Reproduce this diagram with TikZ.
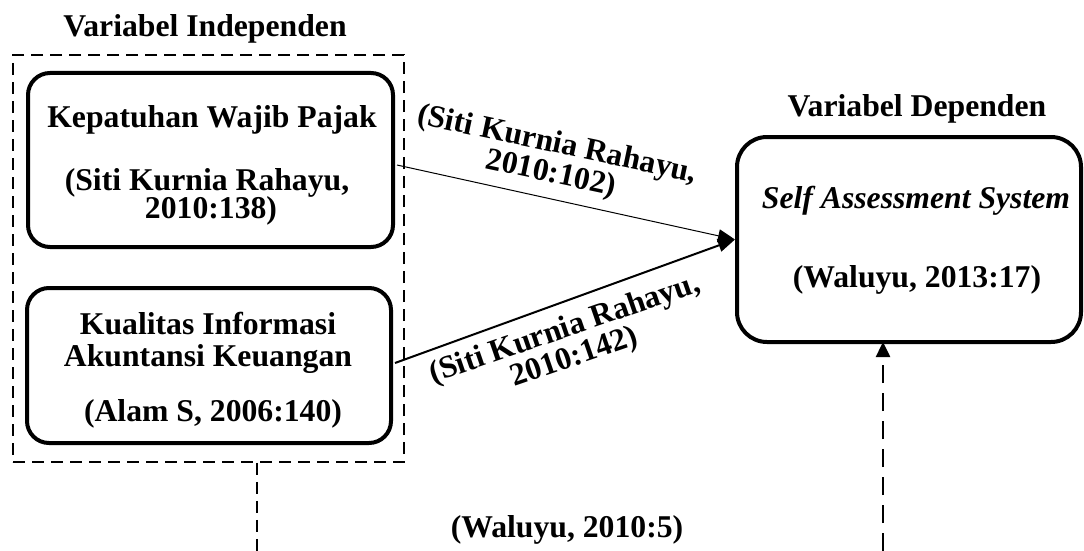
\documentclass[tikz,border=0pt]{standalone}
\usepackage{fontspec}
\setmainfont{Liberation Serif}
\usetikzlibrary{arrows.meta,calc}
\begin{document}
\begin{tikzpicture}[x=1pt,y=-1pt,
  txt/.style={font=\fontsize{31.7}{30}\selectfont\bfseries, inner sep=0pt, anchor=base},
  lbl/.style={font=\fontsize{31.7}{30}\selectfont\bfseries, inner sep=0pt, align=center, anchor=center},
  vbox/.style={draw, line width=4pt, rounded corners=22pt, inner sep=0pt},
  grp/.style={draw, line width=1.5pt, dash pattern=on 12pt off 7pt, inner sep=0pt},
  dline/.style={line width=1.5pt, dash pattern=on 12pt off 7pt},
  uparrow/.style={line width=2.5pt, dash pattern=on 18pt off 10pt, -{Triangle[length=15pt,width=14pt]}},
  link/.style={-{Triangle[length=17pt,width=13pt]}}]
\useasboundingbox (0,0) rectangle (1084,551);

% group box
\node[grp, minimum width=391pt, minimum height=407pt] (indep) at (208.5,258.5) {};
\node[txt] (tindep) at (205,37) {Variabel Independen};

% independent variable boxes
\node[vbox, minimum width=365pt, minimum height=174pt] (k1) at (210.5,160) {};
\node[txt] (k1a) at (212,127) {Kepatuhan Wajib Pajak};
\node[txt] (k1b) at (207,190) {(Siti Kurnia Rahayu,};
\node[txt] (k1c) at (211,218) {2010:138)};

\node[vbox, minimum width=364pt, minimum height=155pt] (k2) at (209,365.5) {};
\node[txt] (k2a) at (208,334) {Kualitas Informasi};
\node[txt] (k2b) at (208,366) {Akuntansi Keuangan};
\node[txt] (k2c) at (213,421) {(Alam S, 2006:140)};

% dependent variable box
\node[vbox, rounded corners=30pt, minimum width=344pt, minimum height=205pt] (sas) at (909,239.5) {};
\node[txt] (tdep) at (917,116) {Variabel Dependen};
\node[txt, font=\fontsize{31.7}{30}\selectfont\bfseries\itshape] (sa) at (916,208) {Self Assessment System};
\node[txt] (sb) at (917,287) {(Waluyu, 2013:17)};

% connectors
\draw[link, line width=1pt] ([xshift=2pt,yshift=-5pt]k1.east) -- (sas.west);
\draw[link, line width=2pt] ([xshift=2pt,yshift=2.5pt]k2.east) -- (sas.west);
\node[lbl, rotate=-12] (l1) at (554,160) {(Siti Kurnia Rahayu,\\2010:102)};
\node[lbl, rotate=19] (l2) at (570,344) {(Siti Kurnia Rahayu,\\2010:142)};

% dashed links at the bottom
\coordinate (b1) at (257,551);
\coordinate (b2) at (883,551);
\draw[dline] (indep.south -| b1) -- (b1);
\draw[uparrow] (b2) -- ([yshift=2pt]sas.south -| b2);
\node[txt] (w) at (567,537) {(Waluyu, 2010:5)};
\end{tikzpicture}
\end{document}
